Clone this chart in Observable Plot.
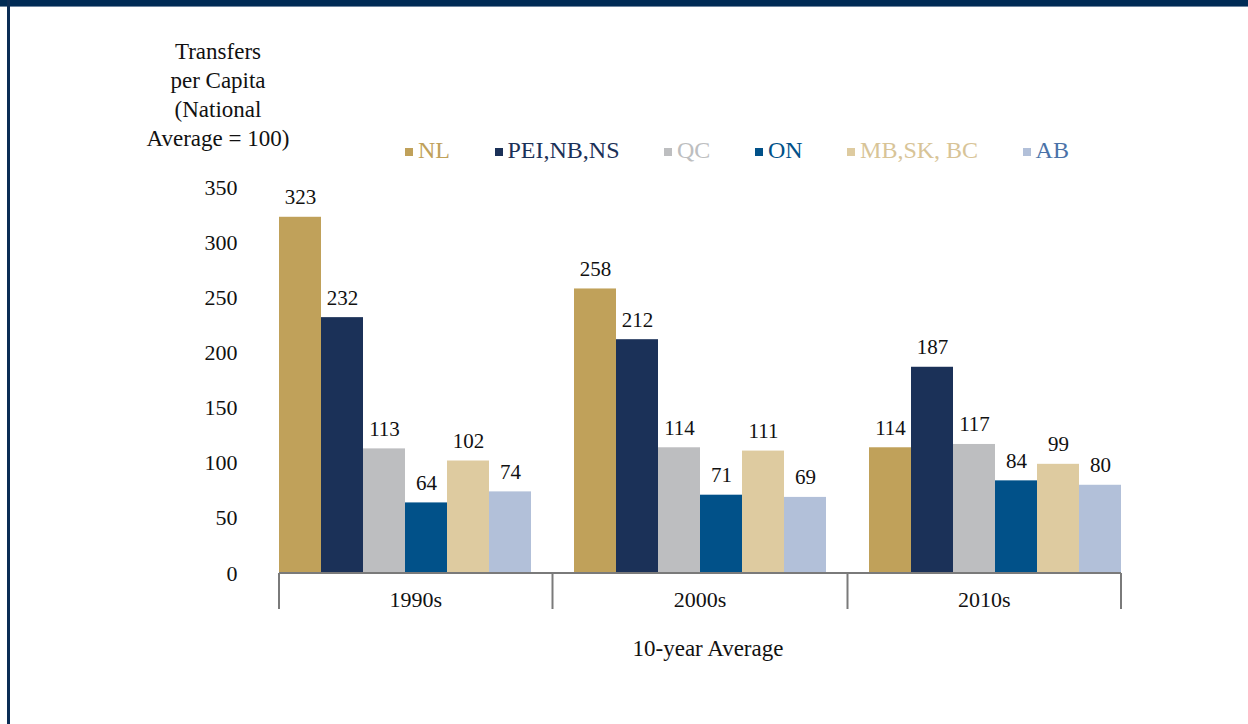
<!DOCTYPE html>
<html><head><meta charset="utf-8">
<script src="https://cdn.jsdelivr.net/npm/d3@7"></script>
<script src="https://cdn.jsdelivr.net/npm/@observablehq/plot@0.6"></script>
<style>
body{margin:0;background:#fff;font-family:"Liberation Serif","Times New Roman",serif;}
#page{position:relative;width:1248px;height:724px;overflow:hidden;background:#fff;}
#chart{position:absolute;left:0;top:0;}
#topbar{position:absolute;left:0;top:0;width:1248px;height:6px;background:#002b55;border-bottom:1px solid #6f86a0;}
#leftbar{position:absolute;left:7px;top:0;width:3px;height:724px;background:#0b2d55;}
#ytitle{position:absolute;left:118px;top:37px;width:200px;text-align:center;font-size:23px;line-height:29px;color:#111;}
#xtitle{position:absolute;left:508px;top:636px;width:400px;text-align:center;font-size:23px;color:#111;}
#legend{position:absolute;left:405px;top:137px;width:664px;display:flex;justify-content:space-between;align-items:center;font-size:24px;}
.item{display:flex;align-items:center;white-space:nowrap;}
.sw{width:8px;height:8px;margin-right:5px;margin-top:3px;}
</style></head>
<body>
<div id="page">
  <div id="chart"></div>
  <div id="topbar"></div>
  <div id="leftbar"></div>
  <div id="ytitle">Transfers<br>per Capita<br>(National<br>Average = 100)</div>
  <div id="legend"></div>
  <div id="xtitle">10-year Average</div>
</div>
<script>
const decades = ["1990s", "2000s", "2010s"];
const regions = ["NL", "PEI,NB,NS", "QC", "ON", "MB,SK, BC", "AB"];
const values1990s = [323, 232, 113, 64, 102, 74];
const values2000s = [258, 212, 114, 71, 111, 69];
const values2010s = [114, 187, 117, 84, 99, 80];
const barColors = ["#C0A15A", "#1B3158", "#BDBEC0", "#015189", "#DECBA0", "#B2C0D9"];
const legendTextColors = ["#C0A15A", "#1B3158", "#BDBEC0", "#015189", "#D8C497", "#4A72A8"];
const yTicks = [0, 50, 100, 150, 200, 250, 300, 350];

const seriesByDecade = [values1990s, values2000s, values2010s];
const rows = [];
decades.forEach((dec, i) => regions.forEach((r, j) => rows.push({decade: dec, region: r, value: seriesByDecade[i][j]})));

const font = '"Liberation Serif","Times New Roman",serif';
const plot = Plot.plot({
  width: 1248, height: 724,
  marginTop: 187, marginBottom: 151, marginLeft: 279, marginRight: 127,
  style: {fontFamily: font, fontSize: "22px", color: "#111", background: "transparent", overflow: "visible"},
  facet: {data: rows, x: "decade", marginTop: 0, marginBottom: 0, marginLeft: 0, marginRight: 0},
  fx: {domain: decades, paddingInner: 0.1458, paddingOuter: 0, axis: null},
  x: {domain: regions, padding: 0, axis: null},
  y: {domain: [0, 350], ticks: yTicks, tickSize: 0, tickPadding: 42, label: null},
  color: {domain: regions, range: barColors},
  marks: [
    Plot.barY(rows, {x: "region", y: "value", fill: "region"}),
    Plot.text(rows, {x: "region", y: "value", text: d => String(d.value), dy: -13, lineAnchor: "bottom", fontSize: 21, fill: "#111"})
  ]
});
document.getElementById("chart").appendChild(plot);

// category axis: baseline, group dividers and decade labels from the fx and y scales
const fxs = plot.scale("fx");
const band = d3.scaleBand().domain(fxs.domain).range(fxs.range)
  .paddingInner(fxs.paddingInner ?? 0).paddingOuter(fxs.paddingOuter ?? 0).align(fxs.align ?? 0.5);
const ys = plot.scale("y");
const yLin = d3.scaleLinear().domain(ys.domain).range(ys.range);
const y0 = yLin(0);
const bw = band.bandwidth();
const divs = [band(decades[0])];
for (let i = 1; i < decades.length; i++) divs.push((band(decades[i - 1]) + bw + band(decades[i])) / 2);
divs.push(band(decades[decades.length - 1]) + bw);

const svg = d3.select(plot);
const g = svg.append("g");
g.append("line").attr("x1", divs[0]).attr("x2", divs[divs.length - 1]).attr("y1", y0).attr("y2", y0)
  .attr("stroke", "#7a7a7a").attr("stroke-width", 2);
divs.forEach(x => g.append("line").attr("x1", x).attr("x2", x).attr("y1", y0).attr("y2", y0 + 36)
  .attr("stroke", "#7a7a7a").attr("stroke-width", 2));
decades.forEach((d, i) => g.append("text").attr("x", (divs[i] + divs[i + 1]) / 2).attr("y", y0 + 34)
  .attr("text-anchor", "middle").attr("font-family", font).attr("font-size", 22).attr("fill", "#111").text(d));

// legend
const legend = document.getElementById("legend");
regions.forEach((r, i) => {
  const it = document.createElement("div"); it.className = "item";
  const sw = document.createElement("span"); sw.className = "sw"; sw.style.background = barColors[i];
  const tx = document.createElement("span"); tx.textContent = r; tx.style.color = legendTextColors[i];
  it.appendChild(sw); it.appendChild(tx); legend.appendChild(it);
});
</script>
</body></html>
